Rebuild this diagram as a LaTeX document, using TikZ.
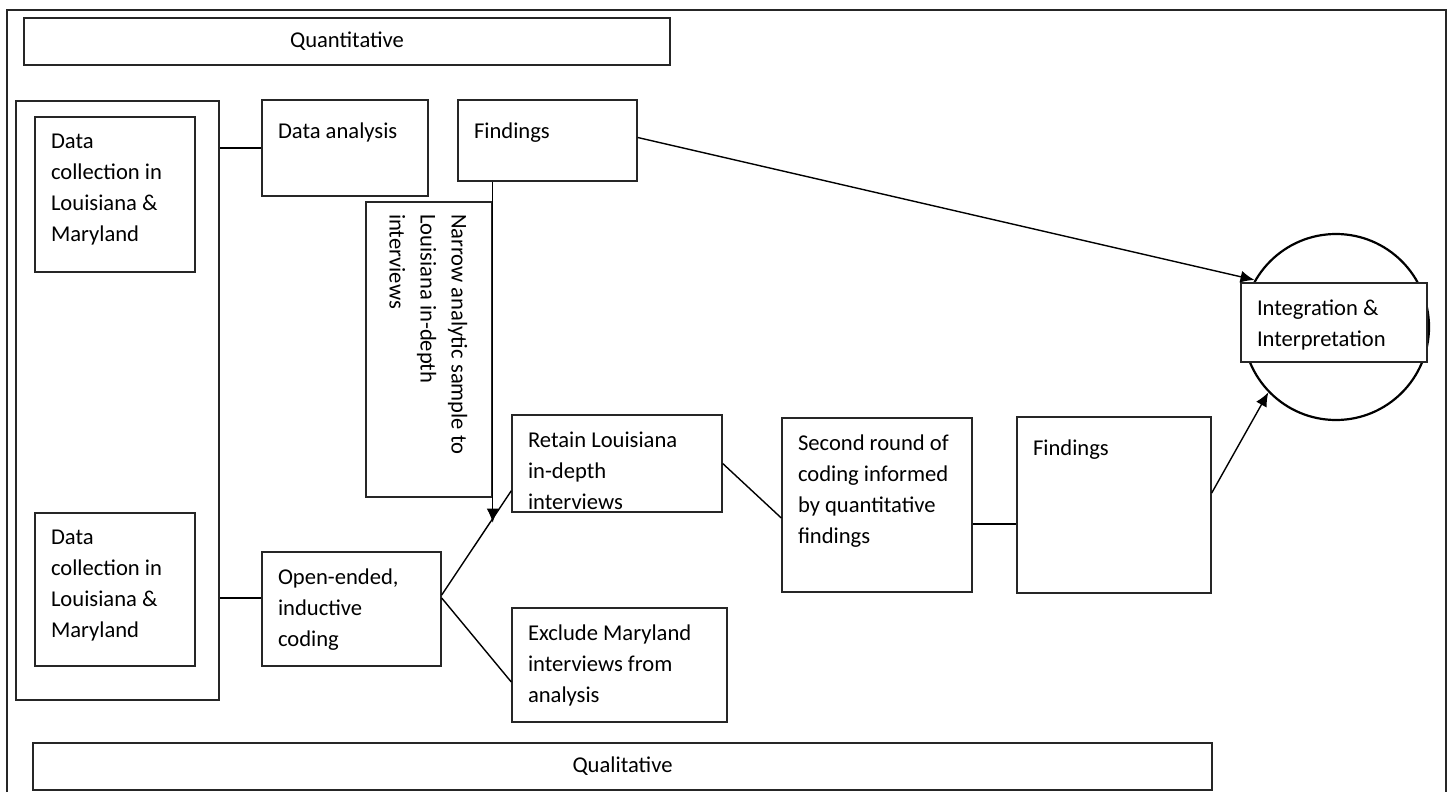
\documentclass[tikz,border=0pt]{standalone}
\usepackage{fontspec}
\setmainfont{Carlito}
\usetikzlibrary{fit,arrows.meta}

\tikzset{
  box/.style={draw=black!85, rectangle, inner sep=0pt, line width=0.7pt},
  txt/.style={inner sep=0pt, align=left, font=\fontsize{11.3}{15.5}\selectfont, execute at begin node=\strut},
  lbl/.style={txt, anchor=north west, xshift=8pt, yshift=-8.6pt},
  vlbl/.style={txt, anchor=north west, xshift=-12.3pt, yshift=-6pt, rotate=-90},
  mid/.style={inner sep=0pt, font=\fontsize{11.3}{15.5}\selectfont},
  arr/.style={-{Latex[length=7pt,width=6pt]}},
}

\begin{document}
\begin{tikzpicture}[x=0.5pt, y=-0.5pt, line width=0.7pt]
\useasboundingbox (0,0) rectangle (1450,792);
% outer frame
\draw[draw=black!85] (7,792) |- (1446,10) -- (1446,792);

\node[box, fit={(24,18) (670,65)}, label={[mid]center:Quantitative}] (quant) {};
\node[box, fit={(33,743) (1212,790)}, label={[mid]center:Qualitative}] (qual) {};

% data collection
\node[box, fit={(16,101) (219,700)}] (cont) {};
\node[box, fit={(35,117) (195,272)}, label={[lbl]north west:Data\\collection in\\Louisiana \&\\Maryland}] (colA) {};
\node[box, fit={(35,513) (195,666)}, label={[lbl]north west:Data\\collection in\\Louisiana \&\\Maryland}] (colB) {};

% quantitative strand
\node[box, fit={(262,100) (428,196)}, label={[lbl]north west:Data analysis}] (anlys) {};
\node[box, fit={(458,100) (637,181)}, label={[lbl]north west:Findings}] (findA) {};
\node[box, fit={(366,202) (492,497)}, label={[vlbl]north east:Narrow analytic sample to\\Louisiana in-depth\\interviews}] (narrow) {};

% qualitative strand
\node[box, fit={(262,552) (441,666)}, label={[lbl]north west:Open-ended,\\inductive\\coding}] (open) {};
\node[box, fit={(512,415) (722,512)}, label={[lbl]north west:Retain Louisiana\\in-depth\\interviews}] (retain) {};
\node[box, fit={(512,608) (727,722)}, label={[lbl]north west:Exclude Maryland\\interviews from\\analysis}] (excl) {};
\node[box, fit={(782,418) (972,592)}, label={[lbl]north west:Second round of\\coding informed\\by quantitative\\findings}] (second) {};
\node[box, fit={(1017,417) (1211,593)}, label={[lbl]north west:Findings}] (findB) {};

% integration
\node[draw, circle, line width=1.1pt, minimum size=93pt, inner sep=0pt] (circ) at (1336,327) {};
\node[box, fill=white, fit={(1241,283) (1427,362)}, label={[lbl]north west:Integration \&\\Interpretation}] (integ) {};

% connectors
\draw (anlys.west) -- (anlys.west -| cont.east);
\draw ([yshift=5.5pt]open.west) coordinate (ow) -- (ow -| cont.east);
\draw[arr] (findA.south -| narrow.east) -- ([yshift=-12.5pt]narrow.south east);
\draw ([yshift=7pt]open.east) -- ([yshift=11pt]retain.south west);
\draw ([yshift=5.5pt]open.east) -- ([yshift=-8.5pt]excl.west);
\draw (retain.east) -- ([yshift=-6.5pt]second.west);
\draw ([yshift=-9.5pt]second.east) coordinate (se) -- (se -| findB.west);
\draw[arr] ([yshift=6pt]findB.east) -- (circ.224);
\draw[arr] ([yshift=1.5pt]findA.east) -- (circ.150);
\end{tikzpicture}
\end{document}
